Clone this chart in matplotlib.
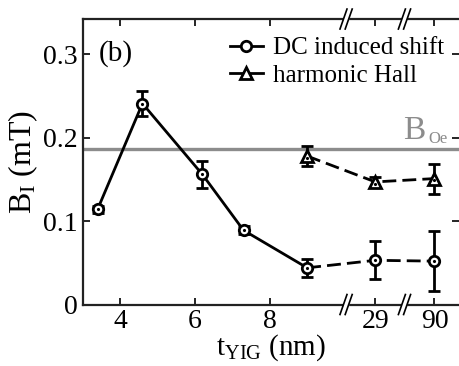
import numpy as np
import matplotlib
matplotlib.use("Agg")
import matplotlib.pyplot as plt
import matplotlib.transforms as mtransforms

plt.rcParams['font.family'] = ['Liberation Serif', 'DejaVu Serif']
plt.rcParams['mathtext.fontset'] = 'custom'
plt.rcParams['mathtext.rm'] = 'Liberation Serif'
plt.rcParams['mathtext.it'] = 'Liberation Serif'

# data
t_dc = [3.4, 4.6, 6.2, 7.3, 9, 29, 90]
b_dc = [0.114, 0.241, 0.156, 0.089, 0.044, 0.053, 0.052]
e_dc = [0.004, 0.015, 0.016, 0.005, 0.011, 0.023, 0.036]

t_hh = [9, 29, 90]
b_hh = [0.178, 0.147, 0.151]
e_hh = [0.012, 0.006, 0.018]

b_oe = 0.186

xtick_vals = [4, 6, 8, 29, 90]
ytick_vals = [0, 0.1, 0.2, 0.3]


# broken x axis: linear up to 9 nm, then 29 and 90 at fixed slots
def xpos(t):
    slots = {29: 10.82, 90: 12.40}
    return np.array([slots.get(v, v) for v in t], dtype=float)


breaks = [10.04, 11.60]

fig = plt.figure(figsize=(4.59, 3.66), dpi=100)
ax = fig.add_axes([0.1815, 0.168, 0.818, 0.78])

x_dc = xpos(t_dc)
x_hh = xpos(t_hh)
LW = 2.0

ax.axhline(b_oe, color='#8c8c8c', lw=2.4, zorder=1)
ax.text(11.55, 0.198, 'B', color='#8c8c8c', fontsize=24, ha='left')
ax.text(12.25, 0.194, 'Oe', color='#8c8c8c', fontsize=12, ha='left')

# connecting lines
ax.plot(x_dc[:5], b_dc[:5], color='k', lw=LW, zorder=2)
ax.plot(x_dc[4:], b_dc[4:], color='k', lw=LW, dashes=(5, 2.2), zorder=2)
ax.plot(x_hh, b_hh, color='k', lw=LW, dashes=(5, 2.2), zorder=2)

ax.errorbar(x_dc, b_dc, yerr=e_dc, fmt='none', ecolor='k', elinewidth=LW,
            capsize=4.5, capthick=LW, zorder=3)
ax.errorbar(x_hh, b_hh, yerr=e_hh, fmt='none', ecolor='k', elinewidth=LW,
            capsize=4.5, capthick=LW, zorder=3)

ax.plot(x_dc, b_dc, 'o', ms=7.5, mfc='white', mec='k', mew=LW, zorder=4)
ax.plot(x_dc, b_dc, '.', ms=2.5, color='k', zorder=5)
ax.plot(x_hh, b_hh, '^', ms=8, mfc='white', mec='k', mew=LW, zorder=4)
ax.plot(x_hh, np.array(b_hh) - 0.002, '.', ms=2.5, color='k', zorder=5)

# legend handles
h1, = ax.plot([], [], '-o', color='k', lw=LW, ms=7.5, mfc='white', mec='k', mew=LW)
h2, = ax.plot([], [], '-^', color='k', lw=LW, ms=8, mfc='white', mec='k', mew=LW)
ax.legend([h1, h2], ['DC induced shift', 'harmonic Hall'], loc='upper right',
          bbox_to_anchor=(1.0, 0.99), frameon=False, fontsize=18,
          handlelength=1.3, handletextpad=0.4, labelspacing=0.2, borderaxespad=0.2)

ax.text(0.04, 0.925, '(b)', transform=ax.transAxes, fontsize=21, va='top')

ax.set_xlim(3.02, 13.05)
ax.set_ylim(0, 0.3423)
ax.set_xticks(xpos(xtick_vals))
ax.set_xticklabels([str(v) for v in xtick_vals])
ax.set_yticks(ytick_vals)
ax.set_yticklabels(['0', '0.1', '0.2', '0.3'])
ax.tick_params(direction='in', length=5, width=1.2, labelsize=20, pad=4,
               top=True, right=True)
ax.tick_params(axis='x', pad=3)
for s in ax.spines.values():
    s.set_linewidth(1.6)
    s.set_color('#222222')
ax.spines['right'].set_visible(False)

ax.set_xlabel(r'$\mathrm{t_{YIG}}$ (nm)', fontsize=21, labelpad=-1)
ax.set_ylabel(r'$\mathrm{B_{I}}$ (mT)', fontsize=23, labelpad=2)

# break marks on top and bottom spines
trans = mtransforms.blended_transform_factory(ax.transData, ax.transAxes)
px = 1 / 37.4
py = 1 / 285.5
for xb in breaks:
    for yb in (0, 1):
        ax.fill_between([xb - 2 * px, xb + 2 * px], yb - 2 * py, yb + 2 * py,
                        color='white', transform=trans, clip_on=False, zorder=6)
        for off in (-2.6, 2.6):
            ax.plot([xb + (off - 3.5) * px, xb + (off + 3.5) * px],
                    [yb - 10 * py, yb + 10 * py], color='k', lw=1.2,
                    transform=trans, clip_on=False, zorder=7)

fig.savefig('out.png', dpi=100)
